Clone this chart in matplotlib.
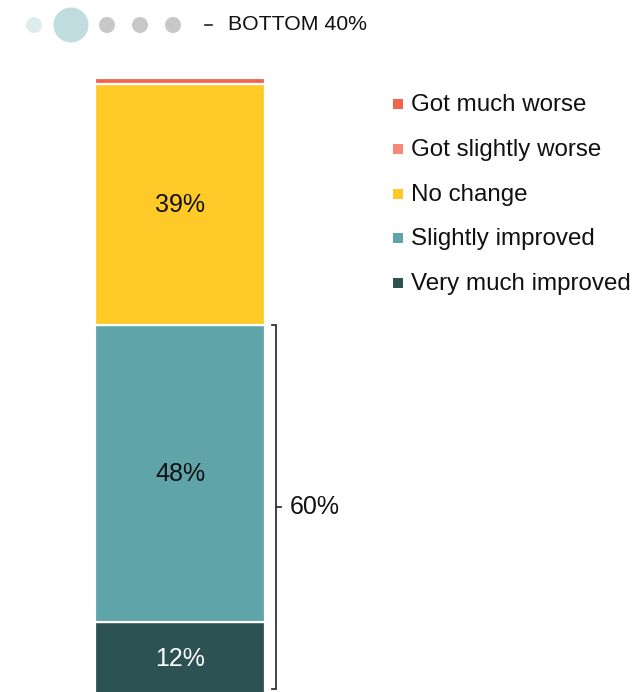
import matplotlib
matplotlib.use("Agg")
import matplotlib.pyplot as plt
from matplotlib.patches import Rectangle, Circle

plt.rcParams['font.family'] = ['Liberation Sans', 'DejaVu Sans']

# Response categories, bottom to top of the stacked bar
categories = ["Very much improved", "Slightly improved", "No change",
              "Got slightly worse", "Got much worse"]
values = [12, 48, 39, 0, 1]
colors = ["#2D5254", "#5FA4A8", "#FFCA28", "#F88778", "#F2644E"]
shown_labels = {"Very much improved": "12%", "Slightly improved": "48%",
                "No change": "39%"}
label_colors = {"Very much improved": "white", "Slightly improved": "#111111",
                "No change": "#111111"}
improved = ["Very much improved", "Slightly improved"]
group_title = "BOTTOM 40%"

W, H = 633, 692
fig = plt.figure(figsize=(W / 100, H / 100), dpi=100)

# Main axes: x in pixels, y in percentage points
ax = fig.add_axes([0, 0, 1, 1])
px_per_pct = 6.18
y_bottom_px = 696
ax.set_xlim(0, W)
ax.set_ylim((y_bottom_px - H) / px_per_pct, y_bottom_px / px_per_pct)
ax.axis("off")

bar_x, bar_w = 180, 170
bottom = 0
for cat, v, c in zip(categories, values, colors):
    if v > 0:
        ax.bar(bar_x, v, width=bar_w, bottom=bottom, color=c,
               edgecolor="white", linewidth=1.6, zorder=2)
    if cat in shown_labels:
        ax.text(bar_x, bottom + v / 2, shown_labels[cat], ha="center",
                va="center", fontsize=18, color=label_colors[cat], zorder=3)
    bottom += v

# Bracket around the improved share
imp_total = sum(v for c, v in zip(categories, values) if c in improved)
bx = 276
b_lo = 1.1
b_hi = imp_total
ax.plot([bx - 4, bx, bx, bx - 4], [b_hi, b_hi, b_lo, b_lo],
        color="#333333", lw=1.3, solid_joinstyle="miter", zorder=3)
b_mid = (b_lo + b_hi) / 2
ax.plot([bx, bx + 5], [b_mid, b_mid], color="#333333", lw=1.3, zorder=3)
ax.text(bx + 14, b_mid, f"{imp_total}%", ha="left", va="center",
        fontsize=18, color="#111111")

# Legend, top to bottom
top_axes = fig.add_axes([0, 0, 1, 1], facecolor="none")
top_axes.set_xlim(0, W)
top_axes.set_ylim(H, 0)
top_axes.axis("off")

legend_order = categories[::-1]
for i, cat in enumerate(legend_order):
    y = 104 + i * 44.8
    c = colors[categories.index(cat)]
    top_axes.add_patch(Rectangle((393, y - 5), 10, 10, color=c, lw=0))
    top_axes.text(411, y + 1, cat, ha="left", va="center", fontsize=17.4,
                  color="#111111")

# Group indicator dots
dot_x = [34, 71, 107, 140, 173]
dot_r = [8, 17.5, 8, 8, 8]
dot_c = ["#DDEDEE", "#C0DCDF", "#C8C8CA", "#C8C8CA", "#C8C8CA"]
for x, r, c in zip(dot_x, dot_r, dot_c):
    top_axes.add_patch(Circle((x, 25), r, color=c, lw=0))
top_axes.plot([205, 212], [25, 25], color="#222222", lw=1.2)
top_axes.text(228, 25, group_title, ha="left", va="center", fontsize=15.3,
              color="#111111")

fig.savefig("out.png", dpi=100)
